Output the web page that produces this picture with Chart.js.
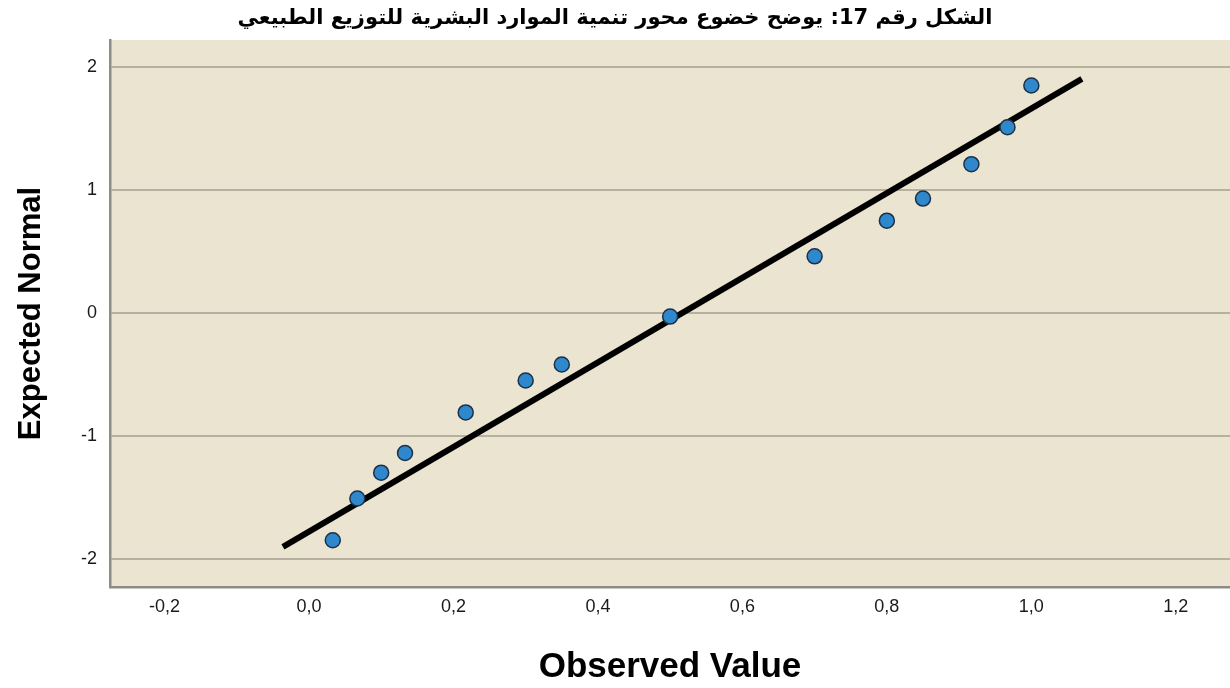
<!DOCTYPE html>
<html>
<head>
<meta charset="utf-8">
<script src="https://cdn.jsdelivr.net/npm/chart.js@4"></script>
<style>
  html, body { margin: 0; padding: 0; background: #fff; }
  #wrap { width: 1230px; height: 688px; }
</style>
</head>
<body>
<div id="wrap"><canvas id="qq" width="1230" height="688"></canvas></div>
<script>
// values
const observed = [0.033, 0.067, 0.100, 0.133, 0.217, 0.300, 0.350, 0.500, 0.700, 0.800, 0.850, 0.917, 0.967, 1.000];
const expected = [-1.85, -1.51, -1.30, -1.14, -0.81, -0.55, -0.42, -0.03, 0.46, 0.75, 0.93, 1.21, 1.51, 1.85];

// reference line end points
const lineX = [-0.036, 1.070];
const lineY = [-1.904, 1.904];

const titleText = 'الشكل رقم 17: يوضح خضوع محور تنمية الموارد البشرية للتوزيع الطبيعي';
const xTitle = 'Observed Value';
const yTitle = 'Expected Normal';

const plotBg = {
  id: 'plotBg',
  beforeDraw(chart) {
    const a = chart.chartArea;
    const c = chart.ctx;
    c.save();
    c.fillStyle = '#ebe4d1';
    c.fillRect(a.left, a.top, a.right - a.left, a.bottom - a.top);
    c.restore();
  }
};

const ctx = document.getElementById('qq').getContext('2d');
new Chart(ctx, {
  type: 'scatter',
  data: {
    datasets: [
      {
        label: 'points',
        data: observed.map((x, i) => ({ x: x, y: expected[i] })),
        backgroundColor: '#2f88cc',
        borderColor: '#1b3148',
        borderWidth: 1.5,
        pointRadius: 7.5,
        order: 0
      },
      {
        label: 'line',
        data: lineX.map((x, i) => ({ x: x, y: lineY[i] })),
        showLine: true,
        borderColor: '#000',
        borderWidth: 6,
        pointRadius: 0,
        order: 1
      }
    ]
  },
  options: {
    responsive: false,
    animation: false,
    layout: { padding: 0, autoPadding: false },
    plugins: {
      legend: { display: false },
      tooltip: { enabled: false },
      title: {
        display: true,
        text: titleText,
        color: '#000',
        font: { family: 'DejaVu Sans', size: 21, weight: 'bold', lineHeight: 1.2 },
        padding: { top: 6, bottom: 8.8 }
      }
    },
    scales: {
      x: {
        type: 'linear',
        min: -0.2754,
        max: 1.275,
        afterFit: s => { s.height = 101; s.paddingLeft = 0; s.paddingRight = 0; },
        grid: { display: false, drawTicks: false },
        border: { display: true, color: '#8e8c84', width: 2.5 },
        ticks: {
          stepSize: 0.2,
          includeBounds: false,
          padding: 9,
          color: '#1a1a1a',
          font: { family: 'Liberation Sans', size: 18 },
          callback: v => v.toFixed(1).replace('.', ',')
        },
        title: {
          display: true,
          text: xTitle,
          color: '#000',
          font: { family: 'Liberation Sans', size: 35, weight: 'bold', lineHeight: 1.2 },
          padding: { top: 0, bottom: 0 }
        }
      },
      y: {
        type: 'linear',
        min: -2.23,
        max: 2.22,
        afterFit: s => { s.width = 110; },
        grid: { display: true, drawTicks: false, color: '#b8b09e', lineWidth: 2 },
        border: { display: true, color: '#8e8c84', width: 2.5 },
        ticks: {
          stepSize: 1,
          includeBounds: false,
          padding: 13,
          color: '#1a1a1a',
          font: { family: 'Liberation Sans', size: 18 }
        },
        title: {
          display: true,
          text: yTitle,
          color: '#000',
          font: { family: 'Liberation Sans', size: 31, weight: 'bold', lineHeight: 1.2 },
          padding: { top: 13, bottom: 0 }
        }
      }
    }
  },
  plugins: [plotBg]
});
</script>
</body>
</html>
